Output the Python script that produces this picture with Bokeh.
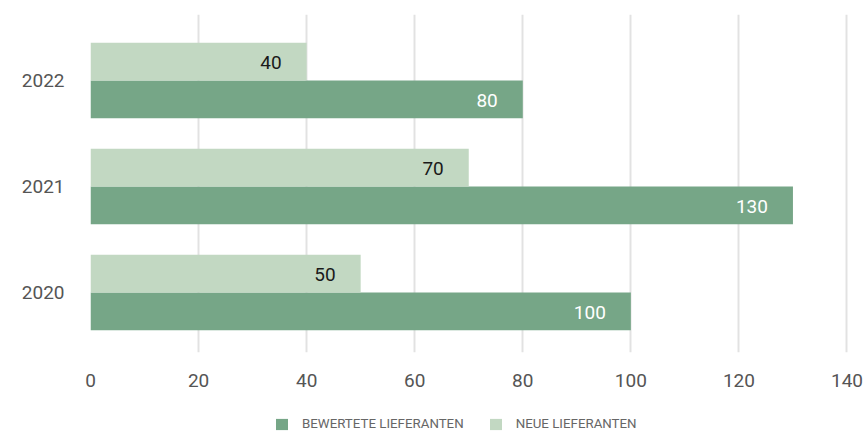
from bokeh.plotting import figure
from bokeh.layouts import column
from bokeh.models import ColumnDataSource, Legend, LegendItem, FixedTicker, Range1d
from bokeh.embed import file_html
from bokeh.resources import INLINE
from bokeh.core.properties import value

# ---- data ----
years = ["2020", "2021", "2022"]
bewertete = [100, 130, 80]
neue = [50, 70, 40]
series_names = ["BEWERTETE LIEFERANTEN", "NEUE LIEFERANTEN"]
x_ticks = [0, 20, 40, 60, 80, 100, 120, 140]

DARK = "#76a687"
LIGHT = "#c2d8c2"
NUM_FONT = "Roboto"
NUM_SIZE = "19px"
BAR_H = 0.357

idx = list(range(len(years)))
src_dark = ColumnDataSource(dict(
    y=[i - BAR_H / 2 for i in idx], v=bewertete, t=[str(v) for v in bewertete]))
src_light = ColumnDataSource(dict(
    y=[i + BAR_H / 2 for i in idx], v=neue, t=[str(v) for v in neue]))

p = figure(width=865, height=412, output_backend="svg", toolbar_location=None,
           x_range=Range1d(0, 140.65), y_range=Range1d(-0.566, 2.6226),
           min_border_left=90, min_border_right=15, min_border_top=14,
           min_border_bottom=60)
p.outline_line_color = None
p.background_fill_color = "white"
p.border_fill_color = "white"

p.hbar(y="y", left=0, right="v", height=BAR_H, source=src_dark,
       fill_color=DARK, line_color=None)
p.hbar(y="y", left=0, right="v", height=BAR_H, source=src_light,
       fill_color=LIGHT, line_color=None)

p.text(x="v", y="y", text="t", source=src_dark, x_offset=-25, y_offset=1,
       text_align="right", text_baseline="middle", text_color="white",
       text_font=value(NUM_FONT), text_font_size=NUM_SIZE)
p.text(x="v", y="y", text="t", source=src_light, x_offset=-25, y_offset=1,
       text_align="right", text_baseline="middle", text_color="#1a1a1a",
       text_font=value(NUM_FONT), text_font_size=NUM_SIZE)

# axes
p.xaxis.ticker = FixedTicker(ticks=x_ticks)
p.xaxis.axis_line_color = None
p.xaxis.major_tick_line_color = None
p.xaxis.minor_tick_line_color = None
p.xaxis.major_label_standoff = 15
p.xaxis.major_label_text_font = NUM_FONT
p.xaxis.major_label_text_font_size = NUM_SIZE
p.xaxis.major_label_text_color = "#555555"

p.yaxis.ticker = FixedTicker(ticks=idx)
p.yaxis.major_label_overrides = {i: y for i, y in zip(idx, years)}
p.yaxis.axis_line_color = None
p.yaxis.major_tick_line_color = None
p.yaxis.minor_tick_line_color = None
p.yaxis.major_label_standoff = 20
p.yaxis.major_label_text_font = NUM_FONT
p.yaxis.major_label_text_font_size = NUM_SIZE
p.yaxis.major_label_text_color = "#555555"

p.xgrid.grid_line_color = "#e2e2e2"
p.xgrid.grid_line_width = 2
p.ygrid.grid_line_color = None

# ---- legend strip ----
p2 = figure(width=865, height=21, output_backend="svg", toolbar_location=None,
            x_range=Range1d(1000, 1001), y_range=Range1d(1000, 1001),
            min_border_left=0, min_border_right=0, min_border_top=0,
            min_border_bottom=0, x_axis_type=None, y_axis_type=None)
p2.outline_line_color = None
p2.grid.grid_line_color = None
l_dark = p2.hbar(y="y", left=0, right="v", height=BAR_H, source=src_dark,
                 fill_color=DARK, line_color=None)
l_light = p2.hbar(y="y", left=0, right="v", height=BAR_H, source=src_light,
                  fill_color=LIGHT, line_color=None)
legend = Legend(items=[LegendItem(label=series_names[0], renderers=[l_dark]),
                       LegendItem(label=series_names[1], renderers=[l_light])],
                orientation="horizontal", location=(184, 2),
                padding=0, margin=0, spacing=24, label_standoff=13,
                glyph_width=15, glyph_height=14,
                label_text_font="Roboto", label_text_font_size="13.3px",
                label_text_color="#666666", border_line_color=None,
                background_fill_alpha=0)
p2.add_layout(legend, "center")

layout = column(p, p2, spacing=0)
open("out.html", "w").write(file_html(layout, INLINE))
